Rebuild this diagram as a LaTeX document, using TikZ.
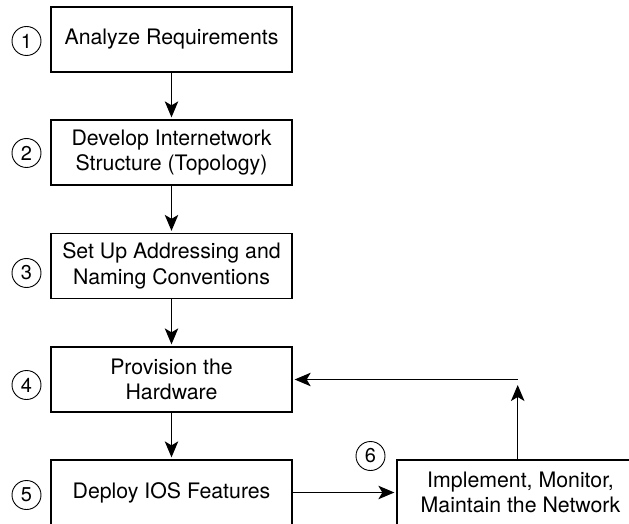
\documentclass[tikz,border=0pt]{standalone}
\usepackage{fontspec}
\setmainfont{TeX Gyre Heros}
\usetikzlibrary{arrows.meta}
\tikzset{
  stepbox/.style={draw, line width=1.3bp, minimum width=241bp, minimum height=65bp, inner sep=0pt, align=center, font=\fontsize{21.3bp}{25.5bp}\selectfont},
  num/.style={draw, circle, line width=0.9bp, minimum size=29bp, inner sep=0pt, font=\fontsize{20bp}{24bp}\selectfont},
  arr/.style={line width=1.2bp, -{Stealth[length=16bp,width=13.5bp,inset=4bp]}, shorten >=2bp}
}
\begin{document}
\begin{tikzpicture}[x=1bp,y=-1bp]
\useasboundingbox (0,0) rectangle (629,524);
\clip (0,0) rectangle (629,524);
\node[stepbox] (b1) at (171.5,39.5) {Analyze Requirements};
\node[stepbox] (b2) at (171.5,152.5) {Develop Internetwork\\Structure (Topology)};
\node[stepbox] (b3) at (171.5,266) {Set Up Addressing and\\Naming Conventions};
\node[stepbox] (b4) at (171.5,379.5) {Provision the\\Hardware};
\node[stepbox] (b5) at (171.5,492.5) {Deploy IOS Features};
\node[stepbox, minimum width=247bp] (b6) at (520.5,492.5) {Implement, Monitor,\\Maintain the Network};
\node[num] (n1) at (26.5,41) {1};
\node[num] (n2) at (26.5,153) {2};
\node[num] (n3) at (26.5,273) {3};
\node[num] (n4) at (26.5,385) {4};
\node[num] (n5) at (26.5,495) {5};
\node[num] (n6) at (370.5,456) {6};
\coordinate (fbup) at (517.7,385);
\coordinate (fbl) at (517.7,379.5);
\draw[arr] (b1) -- (b2);
\draw[arr] (b2) -- (b3);
\draw[arr] (b3) -- (b4);
\draw[arr] (b4) -- (b5);
\draw[arr] (b5) -- (b6);
\draw[arr, shorten >=0pt] (b6.north -| fbup) -- (fbup);
\draw[arr] (fbl) -- (b4.east);
\end{tikzpicture}
\end{document}
